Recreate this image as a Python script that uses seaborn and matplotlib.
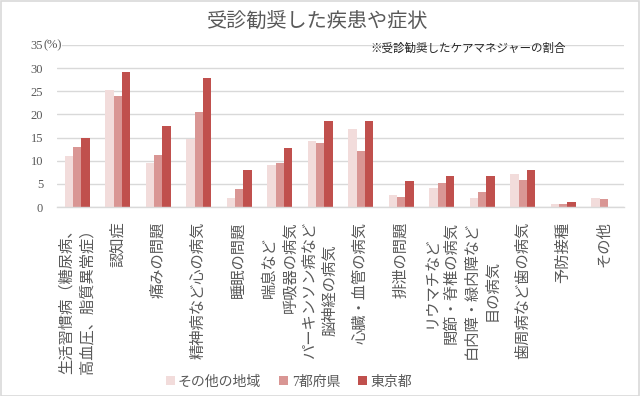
import matplotlib
matplotlib.use("Agg")
import matplotlib.pyplot as plt
import seaborn as sns
import pandas as pd
from matplotlib.patches import Rectangle

categories = [
    "生活習慣病（糖尿病、\n高血圧、脂質異常症）",
    "認知症",
    "痛みの問題",
    "精神病など心の病気",
    "睡眠の問題",
    "喘息など\n呼吸器の病気",
    "パーキンソン病など\n脳神経の病気",
    "心臓・血管の病気",
    "排泄の問題",
    "リウマチなど\n関節・脊椎の病気",
    "白内障・緑内障など\n目の病気",
    "歯周病など歯の病気",
    "予防接種",
    "その他",
]
series_names = ["その他の地域", "7都府県", "東京都"]
other_regions = [11.0, 25.2, 9.4, 14.6, 1.9, 9.1, 14.3, 16.8, 2.5, 4.1, 1.9, 7.2, 0.6, 1.9]
seven_prefs = [12.9, 23.9, 11.3, 20.5, 3.8, 9.6, 13.9, 12.0, 2.2, 5.1, 3.2, 5.9, 0.6, 1.7]
tokyo = [15.0, 29.2, 17.4, 27.8, 8.1, 12.7, 18.5, 18.5, 5.6, 6.8, 6.8, 8.0, 1.0, 0.0]
yticks = [0, 5, 10, 15, 20, 25, 30, 35]
title = "受診勧奨した疾患や症状"
note = "※受診勧奨したケアマネジャーの割合"

colors = ["#F2DCDB", "#D99694", "#C0504D"]
grey = "#595959"

rows = []
for name, vals in zip(series_names, [other_regions, seven_prefs, tokyo]):
    for c, v in zip(categories, vals):
        rows.append({"category": c, "series": name, "value": v})
df = pd.DataFrame(rows)

sns.set_style("white")
plt.rcParams["font.family"] = ["Liberation Serif", "Noto Sans CJK JP", "DejaVu Sans"]

W, H = 640, 396
fig = plt.figure(figsize=(W / 100, H / 100), dpi=100)
ax = fig.add_axes([57 / W, 1 - 207 / H, (624 - 57) / W, (207 - 45) / H])

sns.barplot(data=df, x="category", y="value", hue="series", order=categories,
            hue_order=series_names, palette=colors, width=0.62, gap=0,
            saturation=1, edgecolor="none", linewidth=0, ax=ax, legend=True, errorbar=None)

ax.set_ylim(0, 35)
ax.set_xlim(-0.5, len(categories) - 0.5)
ax.set_yticks(yticks)
ax.set_yticklabels([str(t) for t in yticks], color=grey, fontsize=9)
ax.yaxis.grid(True, color="#D9D9D9", linewidth=1)
ax.set_axisbelow(True)
ax.set_xlabel("")
ax.set_ylabel("")
ax.tick_params(axis="y", length=0, pad=10)
ax.tick_params(axis="x", length=0, pad=10.5)
ax.set_xticks(range(len(categories)))
ax.set_xticklabels(categories, rotation=90, ha="center", va="top",
                   multialignment="center", color=grey, fontsize=11,
                   linespacing=1.55)
for s in ["top", "right", "left"]:
    ax.spines[s].set_visible(False)
ax.spines["bottom"].set_color("#D9D9D9")
ax.spines["bottom"].set_linewidth(1)

# "(%)" next to top tick
fig.text(43 / W, 1 - 45 / H, "(%)", ha="left", va="center", color=grey, fontsize=9,
         bbox=dict(facecolor="white", edgecolor="none", pad=0.5))

fig.text(318 / W, 1 - 22 / H, title, ha="center", va="center", color=grey, fontsize=14.5)
fig.text(370 / W, 1 - 49 / H, note, ha="left", va="center", color="#262626", fontsize=8.3)

leg = ax.legend(loc="center", bbox_to_anchor=(289 / W, 1 - 382 / H),
                bbox_transform=fig.transFigure, ncol=3, frameon=False,
                fontsize=10, handlelength=0.65, handleheight=0.65,
                handletextpad=0.25, columnspacing=1.3)
for t in leg.get_texts():
    t.set_color(grey)

fig.patches.append(Rectangle((0.5 / W, 0.5 / H), 1 - 1.5 / W, 1 - 1.5 / H,
                             transform=fig.transFigure, fill=False,
                             edgecolor="#D9D9D9", linewidth=1.2))

fig.savefig("out.png", dpi=100)
